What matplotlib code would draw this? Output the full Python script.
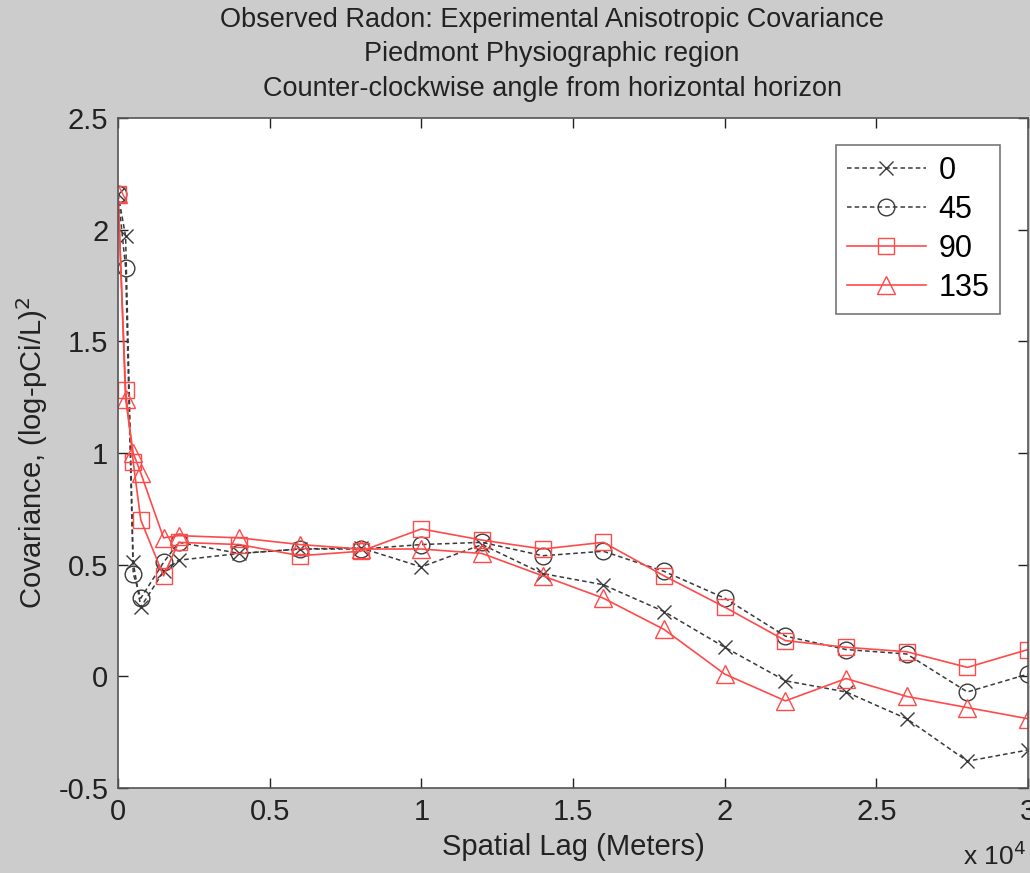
import numpy as np
import matplotlib.pyplot as plt
from matplotlib.ticker import FuncFormatter

plt.rcParams['font.family'] = ['Liberation Sans', 'DejaVu Sans']

lag = [0, 250, 500, 750, 1500, 2000, 4000, 6000, 8000, 10000, 12000, 14000,
       16000, 18000, 20000, 22000, 24000, 26000, 28000, 30000]

cov0 = [2.16, 1.97, 0.51, 0.31, 0.47, 0.52, 0.55, 0.57, 0.575, 0.49, 0.59, 0.46,
        0.41, 0.29, 0.13, -0.02, -0.07, -0.19, -0.38, -0.33]
cov45 = [2.16, 1.83, 0.46, 0.35, 0.51, 0.60, 0.55, 0.57, 0.57, 0.59, 0.60, 0.54,
         0.56, 0.47, 0.35, 0.18, 0.12, 0.10, -0.07, 0.01]
cov90 = [2.16, 1.28, 0.96, 0.70, 0.45, 0.60, 0.59, 0.54, 0.56, 0.66, 0.61, 0.57,
         0.60, 0.45, 0.31, 0.16, 0.13, 0.11, 0.04, 0.12]
cov135 = [2.16, 1.24, 1.00, 0.91, 0.62, 0.63, 0.62, 0.59, 0.57, 0.57, 0.55, 0.45,
          0.35, 0.21, 0.01, -0.11, -0.01, -0.09, -0.14, -0.19]

angles = ['0', '45', '90', '135']
titles = ['Observed Radon: Experimental Anisotropic Covariance',
          'Piedmont Physiographic region',
          'Counter-clockwise angle from horizontal horizon']

fig = plt.figure(figsize=(10.3, 8.73), dpi=100, facecolor='#cccccc')
ax = fig.add_axes([0.1146, 0.0974, 0.8835, 0.7674])

grey = '#3a3a3a'
red = '#ff4a4a'
ax.plot(lag, cov0, '--', color=grey, marker='x', ms=10, mew=1.0, lw=1.1,
        dashes=(3, 2), label=angles[0])
ax.plot(lag, cov45, '--', color=grey, marker='o', ms=12, mfc='none', mew=1.0, lw=1.1,
        dashes=(3, 2), label=angles[1])
ax.plot(lag, cov90, '-', color=red, marker='s', ms=12, mfc='none', mew=1.0, lw=1.2, label=angles[2])
ax.plot(lag, cov135, '-', color=red, marker='^', ms=13, mfc='none', mew=1.0, lw=1.2, label=angles[3])

ax.set_xlim(0, 30000)
ax.set_ylim(-0.5, 2.5)
ax.set_xticks(np.arange(0, 30001, 5000))
ax.set_yticks(np.arange(-0.5, 2.51, 0.5))
ax.xaxis.set_major_formatter(FuncFormatter(lambda v, p: '%g' % (v / 1e4)))
ax.yaxis.set_major_formatter(FuncFormatter(lambda v, p: '%g' % v))
ax.tick_params(direction='in', length=7, width=1, labelsize=21, colors='#222222',
               top=True, right=True, pad=7)
for s in ax.spines.values():
    s.set_color('#555555')
    s.set_linewidth(1.2)

ax.set_xlabel('Spatial Lag (Meters)', fontsize=21, color='#222222', labelpad=5)
ax.set_ylabel('Covariance, (log-pCi/L)$^2$', fontsize=21, color='#222222', labelpad=6)
fig.text(0.996, 0.004, 'x 10$^4$', ha='right', va='bottom', fontsize=19, color='#222222')
ax.set_title('\n'.join(titles), fontsize=19.5, color='#222222', linespacing=1.42,
             pad=16, x=0.477)

leg = ax.legend(loc='upper right', fontsize=22, frameon=True, fancybox=False,
                borderpad=0.35, handlelength=2.6, handletextpad=0.4, labelspacing=0.3,
                borderaxespad=0, bbox_to_anchor=(0.969, 0.96))
leg.get_frame().set_edgecolor('#555555')
leg.get_frame().set_linewidth(1.2)

fig.savefig('out.png', dpi=100, facecolor=fig.get_facecolor())
